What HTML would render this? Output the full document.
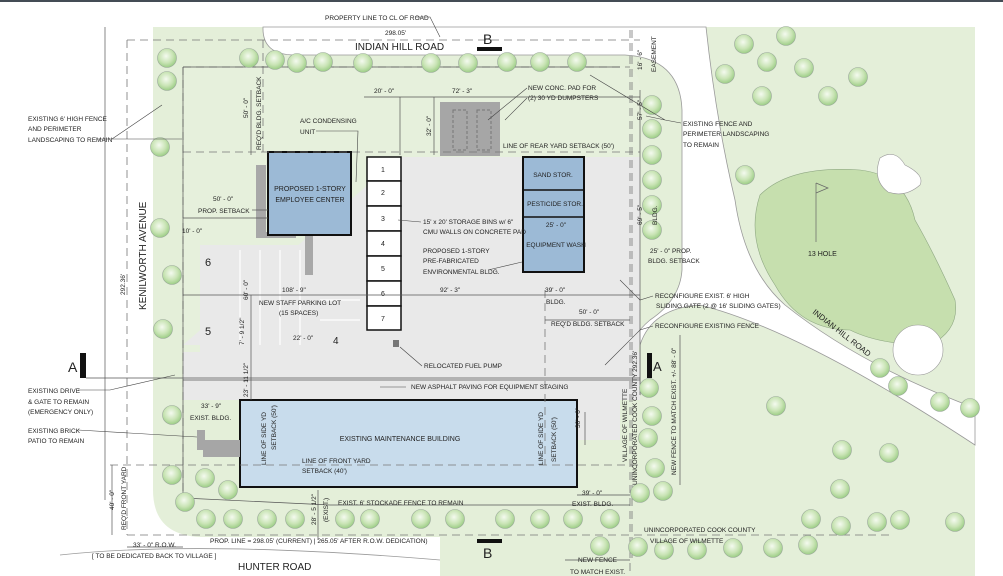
<!DOCTYPE html>
<html><head><meta charset="utf-8"><style>
html,body{margin:0;padding:0;background:#fff}
svg{display:block}
text{font-family:"Liberation Sans",sans-serif;fill:#222}
</style></head><body>
<svg width="1003" height="576" viewBox="0 0 1003 576" xmlns="http://www.w3.org/2000/svg">
<defs>
<radialGradient id="tr" cx="45%" cy="40%" r="60%"><stop offset="0" stop-color="#f4faef"/><stop offset="0.6" stop-color="#c9e4b5"/><stop offset="1" stop-color="#9ccd86"/></radialGradient>
<g id="t"><circle r="9.5" fill="url(#tr)" stroke="#9aa89a" stroke-width="0.6"/></g>
</defs>
<rect x="0" y="0" width="1003" height="576" fill="#fff"/>
<rect x="0" y="0" width="1003" height="2" fill="#444c55"/>
<!-- main green -->
<rect x="153" y="27" width="822" height="549" fill="#e4efd9"/>
<!-- bottom-left white (Hunter road area) -->
<path d="M153,490 Q153,535 200,537 L440,537 L440,576 L153,576 Z" fill="#fff"/>
<path d="M60,555 Q200,540 440,560" fill="none" stroke="#999" stroke-width="0.8"/>
<!-- top road white -->
<path d="M263,27 Q262,55 295,55 L625,55 Q680,58 682,110 L682,270 Q680,300 650,320 Q632,335 632,350 L628,395 L640,395 L640,345 Q652,308 700,305 Q800,330 975,445 L975,408 Q860,365 785,305 Q745,270 735,200 Q716,120 706,27 Z" fill="#fff" stroke="#999" stroke-width="0.8"/>
<!-- golf green -->
<path d="M760,195 Q790,165 860,170 Q905,175 915,220 Q935,255 955,300 Q960,330 930,345 Q880,345 850,330 Q800,330 775,285 Q745,240 760,195 Z" fill="#c6dfae" stroke="#8fa883" stroke-width="0.6"/>
<path d="M880,158 Q895,148 905,165 Q925,175 920,185 Q905,198 888,192 Q872,180 880,158 Z" fill="#fff" stroke="#999" stroke-width="0.6"/>
<circle cx="918" cy="350" r="25" fill="#fff" stroke="#999" stroke-width="0.6"/>
<line x1="816" y1="183" x2="816" y2="242" stroke="#666" stroke-width="0.7"/>
<path d="M816,183 L828,188 L816,193" fill="none" stroke="#666" stroke-width="0.7"/>
<text x="808" y="256" font-size="7">13 HOLE</text>
<!-- interior site lighter -->
<path d="M183,67 L620,67 Q640,67 640,90 L640,395 L183,395 Z" fill="#e6f0dc"/>
<!-- paving -->
<path d="M400,157 L640,157 L640,340 L632,395 L620,395 L620,440 L577,440 L577,400 L183,400 L183,355 L200,355 L200,345 L320,345 L320,250 L240,250 L240,245 L200,245 L200,345 L183,345 Z" fill="#e9e9e9"/>
<rect x="200" y="245" width="120" height="100" fill="#e9e9e9"/>
<rect x="320" y="270" width="50" height="80" fill="#e9e9e9"/>
<rect x="183" y="352" width="457" height="48" fill="#e9e9e9"/>
<path d="M320,300 L400,300 L400,330 Q400,345 385,345 L320,345 Z" fill="#e9e9e9"/>
<!-- parking stall lines -->
<g stroke="#fff" stroke-width="1.2">
<line x1="240" y1="250" x2="240" y2="345"/><line x1="260" y1="250" x2="260" y2="345"/><line x1="280" y1="250" x2="280" y2="345"/><line x1="300" y1="250" x2="300" y2="345"/>
<line x1="320" y1="300" x2="360" y2="300"/><line x1="320" y1="320" x2="360" y2="320"/>
</g>
<text x="205" y="266" font-size="11">6</text><text x="205" y="335" font-size="11">5</text><text x="333" y="344" font-size="10">4</text>
<!-- dumpster pad -->
<rect x="440" y="102" width="60" height="54" fill="#a6a6a6"/>
<rect x="453" y="110" width="14" height="40" fill="none" stroke="#777" stroke-dasharray="3,2"/>
<rect x="477" y="110" width="14" height="40" fill="none" stroke="#777" stroke-dasharray="3,2"/>
<!-- walkway -->
<rect x="256" y="165" width="10" height="72" fill="#a8a8a8"/><rect x="256" y="232" width="40" height="6" fill="#a8a8a8"/>
<rect x="305" y="235" width="8" height="40" fill="#a8a8a8"/>
<!-- employee center -->
<rect x="268" y="152" width="83" height="83" fill="#9cbad6" stroke="#111" stroke-width="2"/>
<text x="310" y="191" font-size="7" text-anchor="middle">PROPOSED 1-STORY</text>
<text x="310" y="202" font-size="7" text-anchor="middle">EMPLOYEE CENTER</text>
<!-- bins -->
<g stroke="#111" stroke-width="1.5" fill="#fff">
<rect x="367" y="157" width="34" height="24"/><rect x="367" y="181" width="34" height="25"/><rect x="367" y="206" width="34" height="25"/><rect x="367" y="231" width="34" height="25"/><rect x="367" y="256" width="34" height="25"/><rect x="367" y="281" width="34" height="25"/><rect x="367" y="306" width="34" height="24"/>
</g>
<g font-size="7" text-anchor="middle"><text x="383" y="172">1</text><text x="383" y="195">2</text><text x="383" y="221">3</text><text x="383" y="246">4</text><text x="383" y="271">5</text><text x="383" y="296">6</text><text x="383" y="321">7</text></g>
<rect x="393" y="340" width="6" height="7" fill="#777"/>
<!-- storage building -->
<rect x="523" y="157" width="61" height="115" fill="#9cbad6" stroke="#111" stroke-width="2"/>
<line x1="523" y1="190" x2="584" y2="190" stroke="#111" stroke-width="1.5"/><line x1="523" y1="217" x2="584" y2="217" stroke="#111" stroke-width="1.5"/>
<g font-size="6.5" text-anchor="middle"><text x="553" y="177">SAND STOR.</text><text x="555" y="206">PESTICIDE STOR.</text><text x="556" y="227">25' - 0"</text><text x="556" y="247">EQUIPMENT WASH</text></g>
<!-- maintenance building -->
<rect x="240" y="400" width="337" height="87" fill="#c8dcec" stroke="#111" stroke-width="2"/>
<text x="400" y="441" font-size="7" text-anchor="middle">EXISTING MAINTENANCE BUILDING</text>
<path d="M197,430 L205,430 L205,440 L240,440 L240,457 L203,457 L203,450 L197,450 Z" fill="#a6a6a6"/>
<!-- dashed lines -->
<g stroke="#777" stroke-width="0.8" fill="none" stroke-dasharray="8,5">
<line x1="127" y1="40" x2="640" y2="40"/>
<line x1="127" y1="40" x2="127" y2="535"/>
<line x1="183" y1="67" x2="183" y2="510"/>
<line x1="183" y1="67" x2="630" y2="67"/>
<line x1="183" y1="152" x2="640" y2="152"/>
<line x1="110" y1="465" x2="640" y2="465"/>
<line x1="127" y1="535" x2="890" y2="535"/>
<line x1="263" y1="40" x2="263" y2="152"/>
<line x1="632" y1="30" x2="632" y2="560"/>
<line x1="545" y1="290" x2="545" y2="465"/>
<line x1="630" y1="30" x2="630" y2="576"/>
</g>
<g stroke="#555" stroke-width="0.7" fill="none">
<line x1="105" y1="27" x2="105" y2="500"/>
<line x1="183" y1="67" x2="620" y2="67"/>
<line x1="183" y1="67" x2="183" y2="498"/>
<line x1="183" y1="498" x2="330" y2="505"/>
<line x1="330" y1="505" x2="630" y2="505"/>
<line x1="183" y1="295" x2="640" y2="295"/>
<line x1="183" y1="380" x2="640" y2="380"/>
<line x1="251" y1="90" x2="251" y2="155"/>
<line x1="252" y1="210" x2="268" y2="210"/>
<line x1="183" y1="218" x2="268" y2="218"/>
<line x1="400" y1="97" x2="400" y2="155"/>
<line x1="434" y1="97" x2="434" y2="155"/>
<line x1="364" y1="97" x2="640" y2="97"/>
<line x1="251" y1="295" x2="251" y2="400"/>
<line x1="318" y1="490" x2="318" y2="540"/>
<line x1="577" y1="495" x2="630" y2="495"/>
<line x1="585" y1="412" x2="585" y2="445"/>
<line x1="112" y1="465" x2="112" y2="535"/>
<line x1="127" y1="547" x2="183" y2="547"/>
<line x1="545" y1="320" x2="630" y2="320"/>
<line x1="565" y1="560" x2="630" y2="560"/>
</g>
<!-- fence lines right -->
<line x1="640" y1="90" x2="640" y2="395" stroke="#555" stroke-width="0.7"/>
<line x1="680" y1="335" x2="680" y2="485" stroke="#555" stroke-width="0.7"/>
<!-- trees -->
<g>
<use href="#t" x="167" y="58"/><use href="#t" x="167" y="81"/><use href="#t" x="160" y="147"/><use href="#t" x="160" y="228"/><use href="#t" x="172" y="275"/><use href="#t" x="163" y="329"/>
<use href="#t" x="249" y="58"/><use href="#t" x="275" y="60"/><use href="#t" x="297" y="63"/><use href="#t" x="323" y="62"/><use href="#t" x="363" y="63"/><use href="#t" x="431" y="63"/><use href="#t" x="468" y="63"/><use href="#t" x="507" y="62"/><use href="#t" x="540" y="62"/><use href="#t" x="577" y="62"/>
<use href="#t" x="652" y="105"/><use href="#t" x="652" y="129"/><use href="#t" x="652" y="155"/><use href="#t" x="652" y="180"/><use href="#t" x="652" y="205"/><use href="#t" x="652" y="230"/>
<use href="#t" x="172" y="415"/><use href="#t" x="172" y="475"/><use href="#t" x="205" y="478"/><use href="#t" x="228" y="490"/><use href="#t" x="185" y="502"/>
<use href="#t" x="206" y="519"/><use href="#t" x="233" y="519"/><use href="#t" x="267" y="519"/><use href="#t" x="295" y="519"/><use href="#t" x="345" y="519"/><use href="#t" x="370" y="519"/><use href="#t" x="421" y="519"/><use href="#t" x="455" y="519"/><use href="#t" x="505" y="519"/><use href="#t" x="540" y="519"/><use href="#t" x="573" y="519"/><use href="#t" x="610" y="519"/>
<use href="#t" x="600" y="546"/><use href="#t" x="638" y="547"/><use href="#t" x="664" y="550"/><use href="#t" x="697" y="550"/><use href="#t" x="733" y="548"/><use href="#t" x="773" y="548"/><use href="#t" x="808" y="545"/>
<use href="#t" x="649" y="388"/><use href="#t" x="652" y="416"/><use href="#t" x="648" y="438"/><use href="#t" x="655" y="468"/><use href="#t" x="640" y="493"/><use href="#t" x="663" y="491"/>
<use href="#t" x="744" y="44"/><use href="#t" x="786" y="36"/><use href="#t" x="725" y="74"/><use href="#t" x="767" y="62"/><use href="#t" x="804" y="68"/><use href="#t" x="858" y="77"/><use href="#t" x="762" y="96"/><use href="#t" x="828" y="96"/><use href="#t" x="745" y="175"/>
<use href="#t" x="880" y="368"/><use href="#t" x="898" y="386"/><use href="#t" x="940" y="402"/><use href="#t" x="970" y="408"/><use href="#t" x="776" y="406"/><use href="#t" x="842" y="450"/><use href="#t" x="889" y="453"/><use href="#t" x="840" y="489"/><use href="#t" x="811" y="519"/><use href="#t" x="841" y="526"/><use href="#t" x="877" y="522"/><use href="#t" x="900" y="520"/><use href="#t" x="955" y="522"/>
</g>
<!-- section markers -->
<rect x="477" y="47" width="25" height="4" fill="#111"/><text x="483" y="44" font-size="14">B</text>
<rect x="477" y="539" width="25" height="4" fill="#111"/><text x="483" y="558" font-size="14">B</text>
<rect x="80" y="353" width="6" height="25" fill="#111"/><text x="68" y="372" font-size="14">A</text>
<rect x="647" y="353" width="5" height="25" fill="#111"/><text x="653" y="371" font-size="13">A</text>
<line x1="86" y1="378" x2="640" y2="378" stroke="#555" stroke-width="0.7"/>
<!-- road labels -->
<text x="355" y="50" font-size="10">INDIAN HILL ROAD</text>
<text x="238" y="570" font-size="10">HUNTER ROAD</text>
<text x="812" y="313" font-size="8" transform="rotate(38 812 313)">INDIAN HILL ROAD</text>
<text x="146" y="310" font-size="10" transform="rotate(-90 146 310)">KENILWORTH AVENUE</text>
<!-- labels -->
<g font-size="6.5">
<text x="325" y="20">PROPERTY LINE TO CL OF ROAD</text>
<text x="385" y="35">298.05'</text>
<text x="28" y="121">EXISTING 6' HIGH FENCE</text><text x="28" y="131">AND PERIMETER</text><text x="28" y="142">LANDSCAPING TO REMAIN</text>
<text x="300" y="123">A/C CONDENSING</text><text x="300" y="134">UNIT</text>
<text x="374" y="93">20' - 0"</text><text x="452" y="93">72' - 3"</text>
<text x="528" y="90">NEW CONC. PAD FOR</text><text x="528" y="100">(2) 30 YD DUMPSTERS</text>
<text x="503" y="148">LINE OF REAR YARD SETBACK (50')</text>
<text x="683" y="126">EXISTING FENCE AND</text><text x="683" y="136">PERIMETER LANDSCAPING</text><text x="683" y="147">TO REMAIN</text>
<text x="213" y="201">50' - 0"</text><text x="198" y="213">PROP. SETBACK</text>
<text x="182" y="233">10' - 0"</text>
<text x="423" y="224">15' x 20' STORAGE BINS w/ 6"</text><text x="423" y="234">CMU WALLS ON CONCRETE PAD</text>
<text x="423" y="253">PROPOSED 1-STORY</text><text x="423" y="263">PRE-FABRICATED</text><text x="423" y="274">ENVIRONMENTAL BLDG.</text>
<text x="650" y="253">25' - 0" PROP.</text><text x="648" y="263">BLDG. SETBACK</text>
<text x="655" y="298">RECONFIGURE EXIST. 6' HIGH</text><text x="655" y="299" dy="0"></text>
<text x="655" y="299" dy="0"></text>
<text x="656" y="308">SLIDING GATE (2 @ 16' SLIDING GATES)</text>
<text x="655" y="328">RECONFIGURE EXISTING FENCE</text>
<text x="282" y="292">108' - 9"</text><text x="440" y="292">92' - 3"</text><text x="545" y="292">39' - 0"</text><text x="546" y="304">BLDG.</text>
<text x="259" y="305">NEW STAFF PARKING LOT</text><text x="279" y="315">(15 SPACES)</text>
<text x="579" y="314">50' - 0"</text><text x="551" y="326">REQ'D  BLDG. SETBACK</text>
<text x="293" y="340">22' - 0"</text>
<text x="424" y="368">RELOCATED FUEL PUMP</text>
<text x="411" y="389">NEW ASPHALT PAVING FOR EQUIPMENT STAGING</text>
<text x="28" y="393">EXISTING DRIVE</text><text x="28" y="404">&amp; GATE TO REMAIN</text><text x="28" y="414">(EMERGENCY ONLY)</text>
<text x="28" y="433">EXISTING BRICK</text><text x="28" y="443">PATIO TO REMAIN</text>
<text x="201" y="408">33' - 9"</text><text x="190" y="420">EXIST. BLDG.</text>
<text x="302" y="463">LINE OF FRONT YARD</text><text x="302" y="473">SETBACK (40')</text>
<text x="338" y="505">EXIST. 6' STOCKADE FENCE TO REMAIN</text>
<text x="582" y="495">39' - 0"</text><text x="572" y="506">EXIST. BLDG.</text>
<text x="644" y="532">UNINCORPORATED COOK COUNTY</text><text x="650" y="543">VILLAGE OF WILMETTE</text>
<text x="210" y="543">PROP. LINE = 298.05' (CURRENT) | 265.05' AFTER R.O.W. DEDICATION)</text>
<text x="133" y="547">33' - 0" R.O.W.</text>
<text x="92" y="558">[ TO BE DEDICATED BACK TO VILLAGE ]</text>
<text x="578" y="562">NEW FENCE</text><text x="570" y="574">TO MATCH EXIST.</text>
</g>
<g font-size="6.5">
<text transform="translate(261,150) rotate(-90)">REQ'D  BLDG. SETBACK</text>
<text transform="translate(248,118) rotate(-90)">50' - 0"</text>
<text transform="translate(431,136) rotate(-90)">32' - 0"</text>
<text transform="translate(642,70) rotate(-90)">16' - 6"</text>
<text transform="translate(656,72) rotate(-90)">EASEMENT</text>
<text transform="translate(642,120) rotate(-90)">57' - 5"</text>
<text transform="translate(642,225) rotate(-90)">69' - 5"</text>
<text transform="translate(657,225) rotate(-90)">BLDG.</text>
<text transform="translate(248,300) rotate(-90)">60' - 0"</text>
<text transform="translate(244,345) rotate(-90)">7' - 9 1/2"</text>
<text transform="translate(248,397) rotate(-90)">23' - 11 1/2"</text>
<text transform="translate(125,295) rotate(-90)">292.36'</text>
<text transform="translate(266,465) rotate(-90)">LINE OF SIDE YD</text>
<text transform="translate(276,450) rotate(-90)">SETBACK (50')</text>
<text transform="translate(543,465) rotate(-90)">LINE OF SIDE YD</text>
<text transform="translate(556,462) rotate(-90)">SETBACK (50')</text>
<text transform="translate(580,428) rotate(-90)">30' - 0"</text>
<text transform="translate(316,525) rotate(-90)">28' - 5 1/2"</text>
<text transform="translate(328,522) rotate(-90)">(EXIST.)</text>
<text transform="translate(114,510) rotate(-90)">40' - 0"</text>
<text transform="translate(126,530) rotate(-90)">REQ'D FRONT YARD</text>
<text transform="translate(627,462) rotate(-90)">VILLAGE OF WILMETTE</text>
<text transform="translate(637,485) rotate(-90)">UNINCORPORATED COOK COUNTY  292.36'</text>
<text transform="translate(676,475) rotate(-90)">NEW FENCE TO MATCH EXIST. +/- 88' - 0"</text>
</g>
<!-- leaders -->
<g stroke="#444" stroke-width="0.6" fill="none">
<path d="M415,17 L430,17 L440,37"/>
<path d="M98,139 L182,139 M112,139 L162,105"/>
<path d="M316,131 L358,131 L356,182"/>
<path d="M527,88 L488,120 M527,98 L505,120"/>
<path d="M681,123 L665,120 L590,75 M665,120 L646,116"/>
<path d="M398,220 L421,222"/>
<path d="M488,270 L522,262"/>
<path d="M653,296 L640,300 L620,280"/>
<path d="M653,326 L640,330 L605,365"/>
<path d="M400,347 L422,366"/>
<path d="M406,387 L380,387"/>
<path d="M78,390 L110,390 L175,375"/>
<path d="M78,430 L197,437"/>
</g>
</svg>
</body></html>
